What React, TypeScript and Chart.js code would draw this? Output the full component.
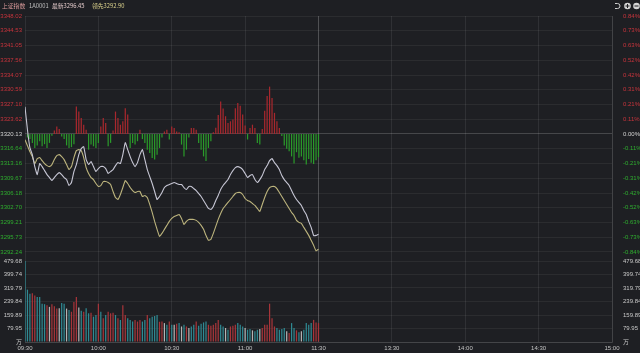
import React, { useEffect, useRef } from 'react';
import { Chart, registerables } from 'chart.js';

Chart.register(...registerables);

// ---------- data ----------
const PREV_CLOSE = 3320.13;

const HEADER_TEXTS = ['上证指数', '1A0001', '最新3296.45', '领先3292.90'];

const TIME_TICKS = [0, 30, 60, 90, 120, 150, 180, 210, 240];
const TIME_LABELS = ['09:30', '10:00', '10:30', '11:00', '11:30', '13:30', '14:00', '14:30', '15:00'];

const PRICE_TICKS = [3348.02, 3344.53, 3341.05, 3337.56, 3334.07, 3330.59, 3327.10, 3323.62, 3320.13,
  3316.64, 3313.16, 3309.67, 3306.18, 3302.70, 3299.21, 3295.73, 3292.24];
const PRICE_LABELS = ['3348.02', '3344.53', '3341.05', '3337.56', '3334.07', '3330.59', '3327.10', '3323.62', '3320.13',
  '3316.64', '3313.16', '3309.67', '3306.18', '3302.70', '3299.21', '3295.73', '3292.24'];
const PCT_LABELS = ['0.84%', '0.73%', '0.63%', '0.52%', '0.42%', '0.31%', '0.21%', '0.11%', '0.00%',
  '-0.11%', '-0.21%', '-0.31%', '-0.42%', '-0.52%', '-0.63%', '-0.73%', '-0.84%'];

const VOL_TICKS = [0, 79.95, 159.89, 239.84, 319.79, 399.74, 479.68];
const VOL_LABELS = ['万', '79.95', '159.89', '239.84', '319.79', '399.74', '479.68'];

// index (white line), one value per minute 09:30..11:30
const INDEX_LINE = [
  3326.56, 3321.14, 3316.90, 3315.25, 3312.43, 3310.54, 3313.13, 3312.43, 3311.48, 3310.54,
  3309.84, 3309.13, 3309.84, 3310.54, 3311.01, 3310.54, 3309.84, 3309.36, 3307.95, 3308.66,
  3311.25, 3312.90, 3315.25, 3316.67, 3317.14, 3314.08, 3312.90, 3313.61, 3312.43, 3311.25,
  3311.96, 3312.43, 3312.43, 3311.96, 3310.78, 3311.25, 3311.72, 3312.66, 3313.37, 3313.13,
  3315.25, 3318.08, 3316.43, 3314.78, 3313.37, 3312.43, 3313.37, 3315.25, 3316.43, 3314.08,
  3311.72, 3310.07, 3308.42, 3306.54, 3304.65, 3305.36, 3306.30, 3307.48, 3307.95, 3308.19,
  3308.42, 3308.66, 3308.42, 3308.19, 3308.19, 3307.48, 3307.01, 3307.72, 3307.72, 3307.24,
  3306.77, 3306.07, 3305.36, 3304.42, 3303.48, 3302.53, 3302.30, 3303.00, 3304.42, 3305.60,
  3307.01, 3307.95, 3308.66, 3309.36, 3310.54, 3311.48, 3312.19, 3312.43, 3312.19, 3311.72,
  3310.78, 3309.84, 3310.31, 3310.54, 3309.36, 3308.66, 3309.36, 3310.31, 3311.72, 3312.66,
  3313.84, 3314.31, 3313.37, 3312.66, 3311.72, 3310.31, 3309.36, 3308.66, 3307.95, 3306.77,
  3305.60, 3304.65, 3303.95, 3303.24, 3302.06, 3301.12, 3299.47, 3298.06, 3296.17, 3296.17, 3296.45,
];

// leading index (yellow line)
const LEAD_LINE = [
  3318.79, 3317.37, 3315.96, 3314.78, 3313.13, 3314.31, 3314.55, 3313.84, 3313.13, 3312.66,
  3312.43, 3312.90, 3314.08, 3315.02, 3315.25, 3314.78, 3314.08, 3312.90, 3311.72, 3312.43,
  3314.55, 3316.20, 3316.43, 3316.20, 3314.55, 3312.19, 3310.78, 3309.84, 3309.36, 3308.42,
  3307.72, 3307.95, 3308.89, 3308.89, 3308.66, 3308.19, 3306.54, 3305.12, 3304.65, 3305.83,
  3307.48, 3309.13, 3308.42, 3307.48, 3306.77, 3306.30, 3306.54, 3306.54, 3305.36, 3305.60,
  3305.12, 3303.48, 3301.59, 3299.47, 3297.59, 3295.94, 3296.64, 3297.59, 3298.53, 3299.47,
  3300.18, 3300.65, 3300.88, 3301.12, 3300.18, 3298.76, 3299.47, 3299.94, 3299.94, 3299.94,
  3299.71, 3299.24, 3298.53, 3297.59, 3296.17, 3295.00, 3295.23, 3296.64, 3298.29, 3299.94,
  3301.36, 3302.53, 3303.24, 3303.95, 3304.65, 3305.36, 3306.07, 3306.30, 3306.30, 3305.83,
  3304.89, 3304.42, 3304.18, 3303.71, 3303.24, 3302.53, 3301.83, 3303.48, 3305.12, 3306.54,
  3307.48, 3307.72, 3307.72, 3307.24, 3306.30, 3305.36, 3304.42, 3303.48, 3302.53, 3301.59,
  3300.88, 3299.71, 3299.24, 3299.00, 3298.06, 3297.12, 3296.17, 3295.00, 3293.82, 3292.50, 3292.90,
];

// red / green strength bars around the previous close (points)
const STRENGTH = [
  0, -0.8, -1.2, -2.1, -3.3, -2.7, -1.7, -2.9, -2.4, -3.3,
  -2.1, -0.4, 0.8, 1.8, 1.2, -0.6, -1.2, -2.7, -3.3, -3.1,
  -2.4, 6.5, 5.3, 3.8, 2.2, 1.0, -3.7, -2.5, -2.9, -3.3,
  -2.1, 1.8, 3.8, 2.6, -2.9, -2.1, 0.8, 5.3, 3.8, 2.2,
  3.0, 6.1, 4.6, -3.3, -2.1, -2.5, -1.7, 1.0, -1.2, -2.1,
  -3.7, -4.5, -5.7, -6.0, -4.9, -3.3, -0.8, 0.6, 1.0, -1.3,
  1.8, 1.4, 0.6, 0.4, -2.5, -5.3, -3.7, -0.8, 1.4, 1.4,
  1.0, -2.1, -3.7, -5.3, -6.4, -3.3, -1.7, 0.4, 1.5, 4.5,
  7.7, 6.0, 4.2, 2.6, 3.0, 3.4, 6.1, 7.3, 6.7, 4.6,
  2.0, -1.3, 1.4, 2.2, 1.4, -2.1, -2.5, 1.2, 5.5, 9.0,
  11.2, 8.5, 5.0, 3.0, 1.4, -0.5, -2.7, -3.5, -4.1, -5.3,
  -7.0, -4.3, -5.6, -5.3, -6.2, -7.2, -5.9, -6.8, -7.1, -6.2, -5.5,
];

// volume (万) per minute, and its direction: 1 up, -1 down, 0 flat
const VOLUME = [
  479.68, 310, 285, 289, 276, 266, 266, 227, 224, 218,
  208, 224, 212, 198, 200, 231, 227, 198, 189, 179,
  237, 266, 204, 185, 179, 200, 170, 173, 150, 160,
  227, 179, 141, 160, 179, 170, 173, 160, 141, 131,
  218, 160, 141, 131, 121, 131, 121, 131, 121, 131,
  160, 141, 150, 154, 160, 120, 121, 112, 102, 121,
  102, 102, 108, 112, 92, 102, 92, 83, 92, 102,
  121, 96, 108, 116, 121, 102, 96, 102, 112, 131,
  102, 92, 83, 73, 92, 96, 102, 112, 102, 92,
  83, 73, 77, 69, 64, 73, 77, 83, 102, 102,
  227, 141, 92, 83, 73, 77, 83, 64, 54, 112,
  83, 69, 58, 64, 73, 112, 102, 112, 131, 116, 112,
];
const VOL_DIR = [
  -1, -1, -1, 1, 1, -1, -1, -1, -1, 1,
  0, 1, 1, 1, 0, -1, -1, 0, -1, 1,
  1, 1, 0, -1, 1, -1, -1, 1, -1, -1,
  1, -1, 1, -1, 1, 1, 1, -1, 1, -1,
  1, 1, -1, -1, -1, 1, 1, 1, -1, -1,
  1, -1, -1, -1, -1, 1, 1, 0, -1, 1,
  -1, 0, 1, -1, 0, -1, 1, 0, -1, -1,
  1, -1, -1, -1, -1, 1, 1, 1, 1, 1,
  -1, -1, 0, -1, 1, 1, 1, -1, -1, -1,
  0, -1, -1, 0, -1, -1, 0, 1, 1, 1,
  1, 1, 1, -1, -1, -1, -1, 0, 1, -1,
  -1, 1, -1, 0, -1, -1, -1, -1, 1, 1, 1,
];

// ---------- style ----------
const BG = '#1e1f23';
const RED = '#c8343c';
const GREEN = '#2fae2f';
const LABEL_WHITE = '#d2d2d2';
const BAR_RED = '#a8282e';
const BAR_GREEN = '#2a9a2a';
const VOL_RED = '#a8353a';
const VOL_TEAL = '#2f8a93';
const VOL_WHITE = '#b5b5b5';
const NUM_FONT = '"Liberation Sans", Arial, "Noto Sans CJK SC", sans-serif';
const CJK_FONT = '"Noto Sans CJK SC", "Liberation Sans", sans-serif';

const priceRange = PRICE_TICKS[0] - PRICE_TICKS[PRICE_TICKS.length - 1];
const PRICE_MAX = PRICE_TICKS[0];
const PRICE_MIN = PRICE_TICKS[PRICE_TICKS.length - 1] - priceRange * (6 / 236);
const VOL_MAX = VOL_TICKS[VOL_TICKS.length - 1] * (84 / 81);

const bgPlugin = {
  id: 'bg',
  beforeDraw(chart: any) {
    const c = chart.ctx;
    c.save();
    c.fillStyle = BG;
    c.fillRect(0, 0, chart.width, chart.height);
    c.restore();
  },
  afterDraw(chart: any) {
    const c = chart.ctx;
    c.save();
    c.font = `5.8px ${CJK_FONT}`;
    c.textBaseline = 'middle';
    const colors = ['#d99a9a', '#bfbfbf', '#e2c9c9', '#d8cf8a'];
    const xs = [2, 29, 52, 92];
    HEADER_TEXTS.forEach((t, i) => {
      c.fillStyle = colors[i];
      c.fillText(t, xs[i], 6);
    });
    // icons top-right
    c.strokeStyle = '#cfcfcf';
    c.lineWidth = 1;
    c.beginPath();
    c.arc(617.5, 6, 2.5, -Math.PI / 2, Math.PI / 2);
    c.moveTo(617.5, 3.5);
    c.lineTo(615, 3.5);
    c.moveTo(617.5, 8.5);
    c.lineTo(615, 8.5);
    c.stroke();
    c.fillStyle = '#d4d4d4';
    c.beginPath();
    c.arc(627.5, 6, 3.3, 0, Math.PI * 2);
    c.fill();
    c.beginPath();
    c.arc(636.5, 6, 3.3, 0, Math.PI * 2);
    c.fill();
    c.strokeStyle = BG;
    c.lineWidth = 1;
    c.beginPath();
    c.moveTo(625.5, 6);
    c.lineTo(629.5, 6);
    c.moveTo(627.5, 4);
    c.lineTo(627.5, 8);
    c.moveTo(634.5, 6);
    c.lineTo(638.5, 6);
    c.stroke();
    c.restore();
  },
};

function priceTickColor(ctx: any) {
  const v = ctx.tick ? ctx.tick.value : 0;
  if (Math.abs(v - PREV_CLOSE) < 1e-6) return LABEL_WHITE;
  return v > PREV_CLOSE ? RED : GREEN;
}

export default function App() {
  const ref = useRef<HTMLCanvasElement | null>(null);

  useEffect(() => {
    document.body.style.margin = '0';
    document.body.style.background = BG;
    if (!ref.current) return;

    const chart = new Chart(ref.current, {
      type: 'bar',
      data: {
        datasets: [
          {
            type: 'line',
            label: '上证指数',
            data: INDEX_LINE.map((v, i) => ({ x: i, y: v })),
            yAxisID: 'y',
            borderColor: '#c6c6d4',
            borderWidth: 1.1,
            pointRadius: 0,
            tension: 0.12,
            order: 0,
          } as any,
          {
            type: 'line',
            label: '领先',
            data: LEAD_LINE.map((v, i) => ({ x: i, y: v })),
            yAxisID: 'y',
            borderColor: '#bcb47d',
            borderWidth: 1.1,
            pointRadius: 0,
            tension: 0.12,
            order: 1,
          } as any,
          {
            type: 'bar',
            label: 'strength',
            data: STRENGTH.map((v, i) => ({ x: i, y: [PREV_CLOSE, PREV_CLOSE + v] })),
            yAxisID: 'y',
            backgroundColor: STRENGTH.map((v) => (v >= 0 ? BAR_RED : BAR_GREEN)),
            grouped: false,
            barPercentage: 0.5,
            categoryPercentage: 1,
            order: 2,
          } as any,
          {
            type: 'bar',
            label: 'volume',
            data: VOLUME.map((v, i) => ({ x: i, y: v })),
            yAxisID: 'yv',
            backgroundColor: VOL_DIR.map((d) => (d > 0 ? VOL_RED : d < 0 ? VOL_TEAL : VOL_WHITE)),
            grouped: false,
            barPercentage: 0.5,
            categoryPercentage: 1,
            order: 3,
          } as any,
        ],
      },
      options: {
        responsive: false,
        animation: false,
        layout: { padding: { top: 16, left: 0, right: 0, bottom: 0 } },
        plugins: { legend: { display: false }, tooltip: { enabled: false } },
        scales: {
          x: {
            type: 'linear',
            min: 0,
            max: 240,
            offset: false,
            afterBuildTicks: (s: any) => {
              s.ticks = TIME_TICKS.map((v) => ({ value: v }));
            },
            afterFit: (s: any) => {
              s.height = 11;
            },
            ticks: {
              callback: (_v: any, i: number) => TIME_LABELS[i],
              color: '#c4c4c4',
              font: { size: 6, family: NUM_FONT },
              padding: 3,
              autoSkip: false,
              maxRotation: 0,
            },
            grid: {
              offset: false,
              drawTicks: false,
              color: (ctx: any) => {
                const v = ctx.tick ? ctx.tick.value : -1;
                if (v === 120) return 'rgba(255,255,255,0.22)';
                if (v === 240) return 'rgba(255,255,255,0.16)';
                return 'rgba(255,255,255,0.08)';
              },
            },
            border: { display: true, color: 'rgba(255,255,255,0.12)' },
          } as any,
          y: {
            type: 'linear',
            position: 'left',
            stack: 'L',
            stackWeight: 242,
            weight: 2,
            min: PRICE_MIN,
            max: PRICE_MAX,
            afterBuildTicks: (s: any) => {
              s.ticks = PRICE_TICKS.map((v) => ({ value: v }));
            },
            afterFit: (s: any) => {
              s.width = 25;
            },
            ticks: {
              callback: (_v: any, i: number) => PRICE_LABELS[i],
              color: priceTickColor,
              font: { size: 6, family: NUM_FONT },
              padding: 3,
              autoSkip: false,
            },
            grid: {
              drawTicks: false,
              color: (ctx: any) =>
                ctx.tick && Math.abs(ctx.tick.value - PREV_CLOSE) < 1e-6
                  ? 'rgba(255,255,255,0.18)'
                  : 'rgba(255,255,255,0.06)',
            },
            border: { display: false },
          } as any,
          yv: {
            type: 'linear',
            position: 'left',
            stack: 'L',
            stackWeight: 84,
            weight: 1,
            min: 0,
            max: VOL_MAX,
            afterBuildTicks: (s: any) => {
              s.ticks = VOL_TICKS.map((v) => ({ value: v }));
            },
            afterFit: (s: any) => {
              s.width = 25;
            },
            ticks: {
              callback: (_v: any, i: number) => VOL_LABELS[i],
              color: '#c8c8c8',
              font: { size: 6, family: NUM_FONT },
              padding: 3,
              autoSkip: false,
            },
            grid: { drawTicks: false, color: 'rgba(255,255,255,0.06)' },
            border: { display: false },
          } as any,
          yr: {
            type: 'linear',
            position: 'right',
            stack: 'R',
            stackWeight: 242,
            weight: 1,
            min: PRICE_MIN,
            max: PRICE_MAX,
            afterBuildTicks: (s: any) => {
              s.ticks = PRICE_TICKS.map((v) => ({ value: v }));
            },
            afterFit: (s: any) => {
              s.width = 28;
            },
            ticks: {
              callback: (_v: any, i: number) => PCT_LABELS[i],
              color: priceTickColor,
              font: { size: 6, family: NUM_FONT },
              padding: 3,
              autoSkip: false,
            },
            grid: { display: false },
            border: { display: false },
          } as any,
          yvr: {
            type: 'linear',
            position: 'right',
            stack: 'R',
            stackWeight: 84,
            weight: 2,
            min: 0,
            max: VOL_MAX,
            afterBuildTicks: (s: any) => {
              s.ticks = VOL_TICKS.map((v) => ({ value: v }));
            },
            afterFit: (s: any) => {
              s.width = 28;
            },
            ticks: {
              callback: (_v: any, i: number) => VOL_LABELS[i],
              color: '#c8c8c8',
              font: { size: 6, family: NUM_FONT },
              padding: 3,
              autoSkip: false,
            },
            grid: { display: false },
            border: { display: false },
          } as any,
        },
      } as any,
      plugins: [bgPlugin],
    });

    return () => chart.destroy();
  }, []);

  return (
    <div style={{ width: 640, height: 353, background: BG }}>
      <canvas ref={ref} width={640} height={353} style={{ display: 'block' }} />
    </div>
  );
}
